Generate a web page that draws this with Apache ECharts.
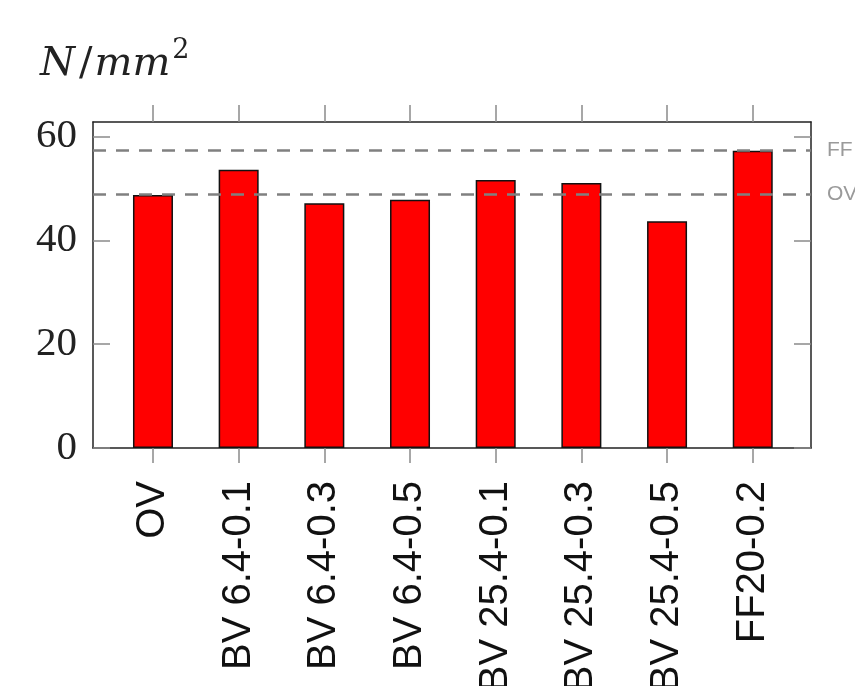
<!DOCTYPE html>
<html>
<head>
<meta charset="utf-8">
<script src="https://cdn.jsdelivr.net/npm/echarts@6/dist/echarts.min.js"></script>
<style>
html,body{margin:0;padding:0;background:#fff;}
#chart{width:855px;height:686px;}
</style>
</head>
<body>
<div id="chart"></div>
<script>
const categories = ['OV', 'BV 6.4-0.1', 'BV 6.4-0.3', 'BV 6.4-0.5', 'BV 25.4-0.1', 'BV 25.4-0.3', 'BV 25.4-0.5', 'FF20-0.2'];
const values = [48.75, 53.6, 47.15, 47.8, 51.65, 51.05, 43.7, 57.25];
const refLines = [{ name: 'FF', value: 57.3 }, { name: 'OV', value: 48.95 }];
const yTicks = [0, 20, 40, 60];
const catIdx = categories.map((c, i) => i);

const chart = echarts.init(document.getElementById('chart'), null, { renderer: 'canvas' });
const axisLineStyle = { color: '#222', width: 1.5 };
const tickStyle = { color: '#8a8a8a', width: 1.5 };
const xMin = -0.7, xMax = 7.68, yMin = 0, yMax = 62.8;

chart.setOption({
  animation: false,
  backgroundColor: '#fff',
  grid: { left: 93, right: 44, top: 122, bottom: 238, containLabel: false, outerBoundsMode: 'none' },
  graphic: [{
    type: 'text', left: 40, top: 37,
    style: {
      text: '{i|N}{n|/}{i|mm}{s|2}',
      rich: {
        i: { fontFamily: 'DejaVu Serif', fontStyle: 'italic', fontSize: 40, fill: '#222', verticalAlign: 'bottom', lineHeight: 48 },
        n: { fontFamily: 'DejaVu Serif', fontSize: 40, fill: '#222', verticalAlign: 'bottom', lineHeight: 48, padding: [0, 2, 0, 4] },
        s: { fontFamily: 'DejaVu Serif', fontSize: 27, fill: '#222', verticalAlign: 'top', lineHeight: 48, padding: [0, 0, 0, 2] }
      }
    }
  }],
  xAxis: [{
    type: 'value', position: 'bottom', min: xMin, max: xMax,
    splitLine: { show: false },
    axisLine: { show: true, lineStyle: axisLineStyle, onZero: false },
    axisTick: { show: true, inside: false, length: 15, lineStyle: tickStyle, customValues: catIdx },
    axisLabel: {
      customValues: catIdx, rotate: 90, margin: 33,
      fontFamily: 'Liberation Sans', fontSize: 40, color: '#111',
      formatter: v => categories[Math.round(v)]
    }
  }, {
    type: 'value', position: 'top', min: xMin, max: xMax,
    splitLine: { show: false },
    axisLine: { show: true, lineStyle: axisLineStyle, onZero: false },
    axisTick: { show: true, inside: false, length: 17, lineStyle: tickStyle, customValues: catIdx },
    axisLabel: { show: false }
  }],
  yAxis: [{
    type: 'value', position: 'left', min: yMin, max: yMax,
    splitLine: { show: false },
    axisLine: { show: true, lineStyle: axisLineStyle, onZero: false },
    axisTick: { show: true, inside: true, length: 17, lineStyle: tickStyle, customValues: yTicks },
    axisLabel: { customValues: yTicks, margin: 16, fontFamily: 'Liberation Serif', fontSize: 41, color: '#222' }
  }, {
    type: 'value', position: 'right', min: yMin, max: yMax,
    splitLine: { show: false },
    axisLine: { show: true, lineStyle: axisLineStyle, onZero: false },
    axisTick: { show: true, inside: true, length: 17, lineStyle: tickStyle, customValues: yTicks },
    axisLabel: { show: false }
  }],
  series: [{
    type: 'bar', xAxisIndex: 0, yAxisIndex: 0,
    barWidth: 40,
    data: categories.map((c, i) => [i, values[i]]),
    itemStyle: { color: '#ff0000', borderColor: '#111', borderWidth: 1.5 },
    markLine: {
      silent: true, symbol: ['none', 'none'], z: 10,
      lineStyle: { color: '#808080', width: 2.7, type: [13, 10] },
      label: { position: 'end', formatter: '{b}', color: '#9a9a9a', fontFamily: 'Liberation Sans', fontSize: 21, distance: 16 },
      data: refLines.map(r => ({ name: r.name, yAxis: r.value }))
    }
  }]
});
</script>
</body>
</html>
